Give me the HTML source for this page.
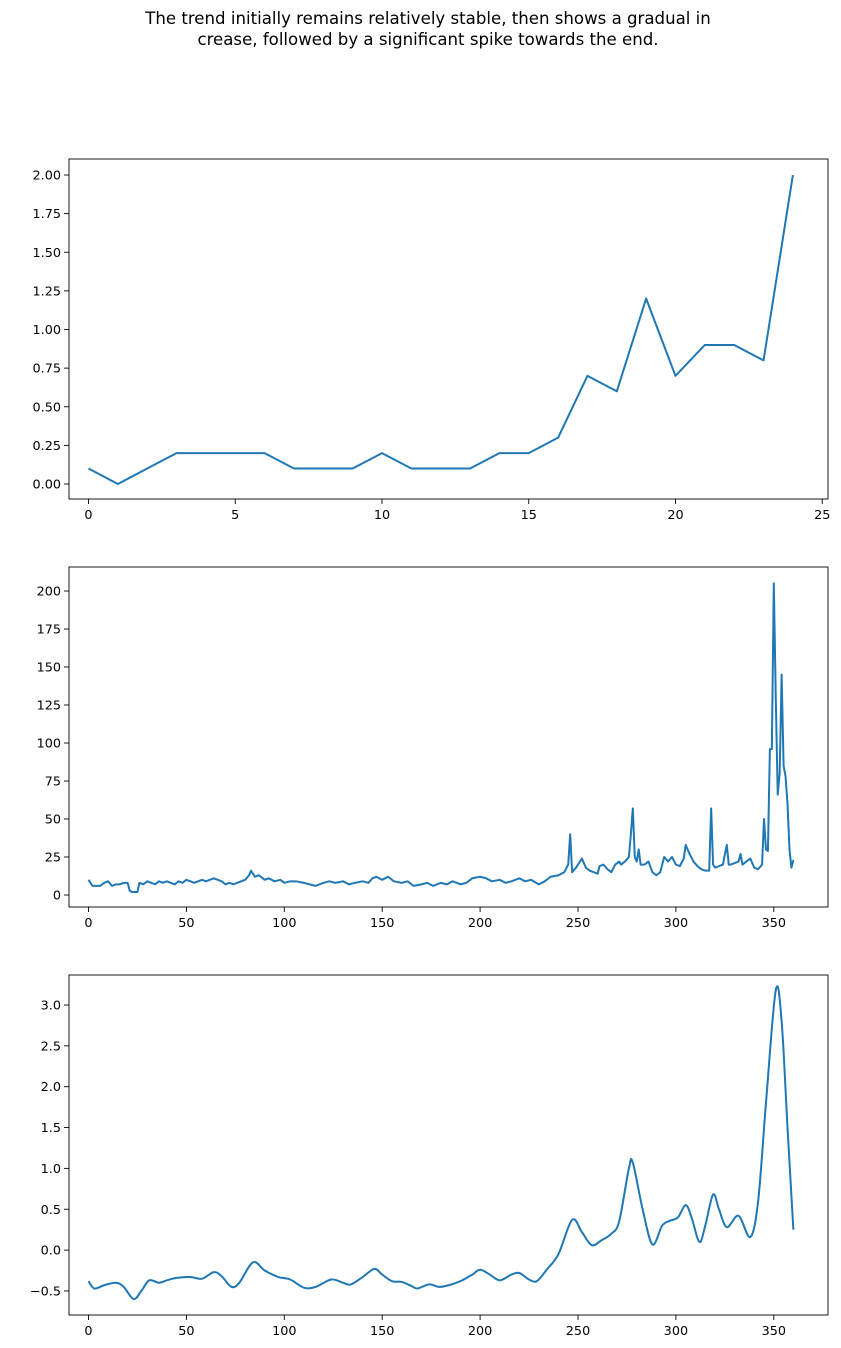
<!DOCTYPE html>
<html><head><meta charset="utf-8">
<style>
body{margin:0;background:#fff;}
svg{display:block;font-family:"DejaVu Sans","Liberation Sans",sans-serif;}
</style></head>
<body>
<svg id="fig" width="841" height="1348" viewBox="0 0 841 1348">
<text x="428" y="24" text-anchor="middle" font-size="16.6">The trend initially remains relatively stable, then shows a gradual in</text>
<text x="428" y="45" text-anchor="middle" font-size="16.6">crease, followed by a significant spike towards the end.</text>
</svg>
<script>
// Panel 1 data
const p1X = [0,1,2,3,4,5,6,7,8,9,10,11,12,13,14,15,16,17,18,19,20,21,22,23,24];
const p1Y = [0.1,0,0.1,0.2,0.2,0.2,0.2,0.1,0.1,0.1,0.2,0.1,0.1,0.1,0.2,0.2,0.3,0.7,0.6,1.2,0.7,0.9,0.9,0.8,2.0];
const p1XTicks = [0,5,10,15,20,25];
const p1YTicks = [0,0.25,0.5,0.75,1.0,1.25,1.5,1.75,2.0];
const p1YLabels = ["0.00","0.25","0.50","0.75","1.00","1.25","1.50","1.75","2.00"];
// Panel 2 data
const p2X = [0,2,4,6,8,10,12,14,16,18,20,21,22,24,25,26,28,30,32,34,36,38,40,42,44,46,48,50,52,54,56,58,60,62,64,66,68,70,72,74,76,78,80,82,83,85,87,90,92,95,98,100,103,106,110,113,116,120,123,126,130,133,136,140,143,145,147,150,153,156,160,163,166,170,173,176,180,183,186,190,193,196,200,203,206,210,213,216,220,223,226,230,233,236,240,243,245,246,247,249,250,252,254,256,258,260,261,263,265,267,269,271,272,274,276,277,278,279,280,281,282,284,286,288,290,292,294,296,298,300,302,304,305,307,309,311,313,315,317,318,319,320,322,324,326,327,328,330,332,333,334,336,338,340,342,344,345,346,347,348,349,350,351,352,353,354,355,356,357,358,359,360];
const p2Y = [10,6,6,6,8,9,6,7,7,8,8,3,2,2,2,8,7,9,8,7,9,8,9,8,7,9,8,10,9,8,9,10,9,10,11,10,9,7,8,7,8,9,10,13,16,12,13,10,11,9,10,8,9,9,8,7,6,8,9,8,9,7,8,9,8,11,12,10,12,9,8,9,6,7,8,6,8,7,9,7,8,11,12,11,9,10,8,9,11,9,10,7,9,12,13,15,20,40,15,18,20,24,18,16,15,14,19,20,17,15,20,22,20,22,25,40,57,25,22,30,20,20,22,15,13,15,25,22,25,20,19,24,33,27,22,19,17,16,16,57,20,18,19,20,33,20,20,21,22,27,20,22,24,18,17,20,50,30,29,96,96,205,130,66,80,145,85,78,60,30,18,23];
const p2XTicks = [0,50,100,150,200,250,300,350];
const p2YTicks = [0,25,50,75,100,125,150,175,200];
// Panel 3 data
const p3X = [0,3,8,14,18,23,27,31,36,40,45,52,58,64,68,73,77,84,90,97,103,110,116,124,130,134,140,146,150,155,160,165,168,174,179,184,190,196,200,205,210,216,220,225,229,234,240,247,252,257,262,267,271,276,278,283,288,293,297,301,305,308,312,315,319,322,326,332,338,342,346,351,354,357,360];
const p3Y = [-0.38,-0.47,-0.43,-0.4,-0.45,-0.6,-0.5,-0.37,-0.4,-0.37,-0.34,-0.33,-0.35,-0.27,-0.32,-0.45,-0.4,-0.15,-0.25,-0.33,-0.36,-0.46,-0.45,-0.36,-0.4,-0.42,-0.33,-0.23,-0.3,-0.38,-0.39,-0.44,-0.47,-0.42,-0.45,-0.43,-0.38,-0.3,-0.24,-0.3,-0.37,-0.3,-0.28,-0.36,-0.38,-0.24,-0.05,0.37,0.22,0.06,0.12,0.2,0.35,1.0,1.07,0.5,0.07,0.3,0.36,0.4,0.55,0.4,0.1,0.3,0.68,0.5,0.28,0.42,0.16,0.6,1.8,3.18,2.8,1.5,0.25];
const p3XTicks = [0,50,100,150,200,250,300,350];
const p3YTicks = [-0.5,0,0.5,1.0,1.5,2.0,2.5,3.0];
const p3YLabels = ["−0.5","0.0","0.5","1.0","1.5","2.0","2.5","3.0"];

const NS = "http://www.w3.org/2000/svg";
const svg = document.getElementById('fig');
function mk(tag, attrs, parent){
  const e = document.createElementNS(NS, tag);
  for (const k in attrs) e.setAttribute(k, attrs[k]);
  (parent||svg).appendChild(e);
  return e;
}
function panel(name, box, xs, ys, xT, xL, yT, yL, smooth){
  const g = mk('g', {});
  
  
  const X = v => box.x0 + (v - box.xv0) * box.xs;
  const Y = v => box.y0 - (v - box.yv0) * box.ys;
  xT.forEach((t,i)=>{
    const px = X(t);
    const tk = mk('line',{x1:px,x2:px,y1:box.b,y2:box.b+5,stroke:'#000','stroke-width':0.9},g);
    
    
    const tx = mk('text',{x:px,y:box.b+20,'text-anchor':'middle','font-size':12.8},g);
    
    
    tx.textContent = xL ? xL[i] : String(t);
  });
  yT.forEach((t,i)=>{
    const py = Y(t);
    const tk = mk('line',{x1:box.l-5,x2:box.l,y1:py,y2:py,stroke:'#000','stroke-width':0.9},g);
    
    
    const tx = mk('text',{x:box.l-8,y:py+4.5,'text-anchor':'end','font-size':12.8},g);
    
    
    tx.textContent = yL ? yL[i] : String(t);
  });
  let d = '';
  if (!smooth){
    xs.forEach((v,i)=>{ d += (i?'L':'M') + X(v).toFixed(2) + ',' + Y(ys[i]).toFixed(2); });
  } else {
    const P = xs.map((v,i)=>[X(v),Y(ys[i])]);
    d = 'M'+P[0][0]+','+P[0][1];
    for (let i=0;i<P.length-1;i++){
      const p0=P[Math.max(0,i-1)], p1=P[i], p2=P[i+1], p3=P[Math.min(P.length-1,i+2)];
      const c1=[p1[0]+(p2[0]-p0[0])/6, p1[1]+(p2[1]-p0[1])/6];
      const c2=[p2[0]-(p3[0]-p1[0])/6, p2[1]-(p3[1]-p1[1])/6];
      d += 'C'+c1[0].toFixed(2)+','+c1[1].toFixed(2)+' '+c2[0].toFixed(2)+','+c2[1].toFixed(2)+' '+p2[0].toFixed(2)+','+p2[1].toFixed(2);
    }
  }
  const ln = mk('path',{d:d,fill:'none',stroke:'#1f77b4','stroke-width':2,'stroke-linejoin':'round'},g);
  
  
  const fr = mk('rect',{x:box.l,y:box.t,width:box.r-box.l,height:box.b-box.t,fill:'none',stroke:'#000','stroke-width':0.9},g);
  
  
}
panel('panel-1', {l:69,r:828,t:159,b:499,x0:88.5,xv0:0,xs:29.35,y0:484,yv0:0,ys:154.5}, p1X,p1Y,p1XTicks,null,p1YTicks,p1YLabels,false);
panel('panel-2', {l:69,r:828,t:567,b:907,x0:88.5,xv0:0,xs:1.958,y0:895,yv0:0,ys:1.52}, p2X,p2Y,p2XTicks,null,p2YTicks,null,false);
panel('panel-3', {l:69,r:828,t:975,b:1315,x0:88.5,xv0:0,xs:1.958,y0:1005,yv0:3,ys:81.7}, p3X,p3Y,p3XTicks,null,p3YTicks,p3YLabels,true);
</script>
</body></html>
